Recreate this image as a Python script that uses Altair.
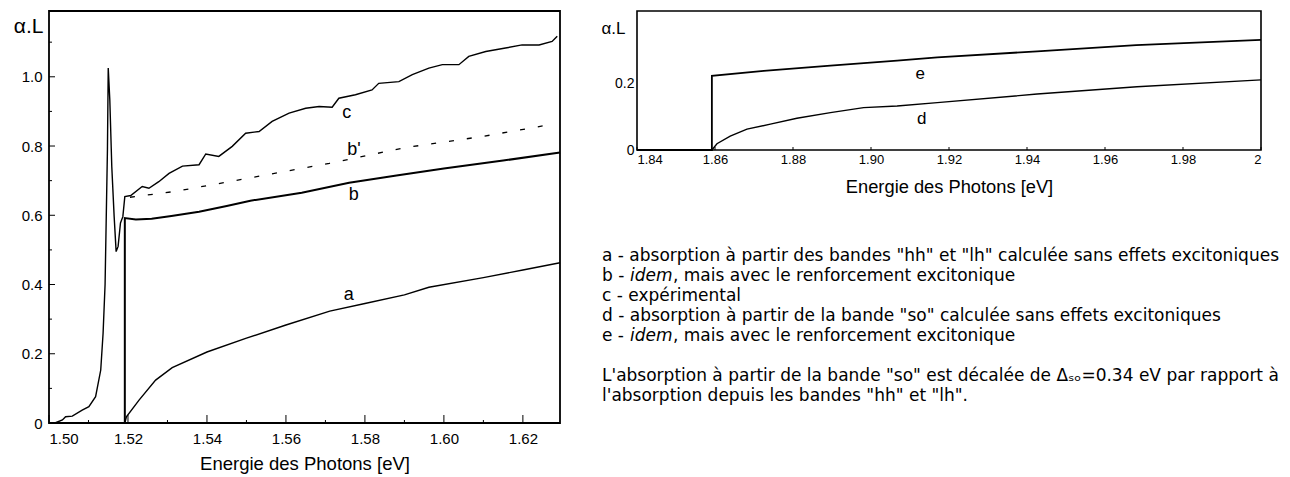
import altair as alt
import pandas as pd

FONT = "Liberation Sans"
CAP_FONT = "DejaVu Sans"

# ---------------- left panel data (hh / lh bands) ----------------
c_E = [1.5015, 1.5034, 1.5042, 1.5059, 1.5084, 1.5101, 1.5118, 1.5131, 1.5137, 1.5142,
       1.5145, 1.5148, 1.5150, 1.5154, 1.5159, 1.5165, 1.5170, 1.5175, 1.5181, 1.5187,
       1.5192, 1.5207, 1.5236, 1.5253, 1.5278, 1.5304, 1.5338, 1.5380, 1.5397, 1.5430,
       1.5464, 1.5498, 1.5532, 1.5565, 1.5608, 1.5650, 1.5684, 1.5717, 1.5734, 1.5776,
       1.5818, 1.5835, 1.5886, 1.5920, 1.5962, 1.5996, 1.6038, 1.6063, 1.6106, 1.6156,
       1.6198, 1.6241, 1.6274, 1.6287]
c_v = [0.000, 0.009, 0.018, 0.020, 0.037, 0.047, 0.076, 0.153, 0.260, 0.400,
       0.596, 0.790, 1.025, 0.933, 0.740, 0.596, 0.495, 0.510, 0.578, 0.596,
       0.654, 0.657, 0.683, 0.678, 0.697, 0.721, 0.742, 0.746, 0.777, 0.770,
       0.799, 0.837, 0.842, 0.871, 0.895, 0.909, 0.914, 0.912, 0.938, 0.948,
       0.962, 0.981, 0.986, 1.006, 1.025, 1.035, 1.035, 1.059, 1.073, 1.083,
       1.092, 1.092, 1.102, 1.117]

b_E = [1.5192, 1.5192, 1.5220, 1.5260, 1.5310, 1.5380, 1.5450, 1.5510, 1.5640, 1.5760,
       1.5880, 1.6000, 1.6150, 1.6294]
b_v = [0.000, 0.592, 0.588, 0.590, 0.598, 0.610, 0.627, 0.642, 0.665, 0.694,
       0.715, 0.735, 0.758, 0.781]

bp_E = [1.5205, 1.5320, 1.5500, 1.5710, 1.5900, 1.6100, 1.6250]
bp_v = [0.652, 0.669, 0.706, 0.750, 0.795, 0.828, 0.858]

a_E = [1.5192, 1.5196, 1.5228, 1.5270, 1.5312, 1.5400, 1.5500, 1.5600, 1.5711, 1.5800,
       1.5900, 1.5962, 1.6100, 1.6200, 1.6294]
a_v = [0.000, 0.018, 0.066, 0.124, 0.160, 0.205, 0.245, 0.283, 0.323, 0.345,
       0.370, 0.392, 0.420, 0.442, 0.463]

left_labels = ["a", "b", "b'", "c"]
left_label_E = [1.5759, 1.5772, 1.5772, 1.5754]
left_label_v = [0.370, 0.659, 0.789, 0.896]

left_x_ticks = [1.50, 1.52, 1.54, 1.56, 1.58, 1.60, 1.62]
left_x_minor = [1.51, 1.53, 1.55, 1.57, 1.59, 1.61]
left_y_ticks = [0, 0.2, 0.4, 0.6, 0.8, 1.0]
left_y_minor = [0.1, 0.3, 0.5, 0.7, 0.9, 1.1]

# ---------------- right panel data (so band) ----------------
d_E = [1.8592, 1.8605, 1.8639, 1.8682, 1.8742, 1.8810, 1.8896, 1.8981, 1.9067, 1.9170,
       1.9426, 1.9682, 2.0000]
d_v = [0.000, 0.019, 0.042, 0.063, 0.078, 0.096, 0.113, 0.128, 0.133, 0.143,
       0.169, 0.191, 0.212]

e_E = [1.8400, 1.8592, 1.8592, 1.8725, 1.8896, 1.9067, 1.9170, 1.9426, 1.9680, 2.0000]
e_v = [0.000, 0.000, 0.224, 0.239, 0.255, 0.270, 0.280, 0.298, 0.317, 0.333]

right_labels = ["e", "d"]
right_label_E = [1.9126, 1.9130]
right_label_v = [0.230, 0.094]

right_x_ticks = [1.84, 1.86, 1.88, 1.90, 1.92, 1.94, 1.96, 1.98, 2.00]
right_y_ticks = [0, 0.2]

# ---------------- caption text ----------------
caption_rows = [0, 1, 1, 1, 2, 3, 4, 4, 4, 6, 7]
caption_part = ["plain", "plain", "italic", "rest", "plain", "plain", "plain", "italic", "rest", "plain", "plain"]
caption_text = [
    'a - absorption à partir des bandes "hh" et "lh" calculée sans effets excitoniques',
    'b - ', 'idem', ', mais avec le renforcement excitonique',
    'c - expérimental',
    'd - absorption à partir de la bande "so" calculée sans effets excitoniques',
    'e - ', 'idem', ', mais avec le renforcement excitonique',
    'L\'absorption à partir de la bande "so" est décalée de Δₛₒ=0.34 eV par rapport à',
    'l\'absorption depuis les bandes "hh" et "lh".',
]


def frame(E, v):
    return pd.DataFrame({"E": E, "v": v, "o": list(range(len(E)))})


# ================= left chart =================
xL = alt.Scale(domain=[1.50, 1.6294], nice=False, zero=False)
yL = alt.Scale(domain=[0, 1.19], nice=False, zero=False)
xL_axis = alt.Axis(values=left_x_ticks, format=".2f", title="Energie des Photons  [eV]",
                   ticks=False, domain=False, grid=False, labelPadding=8, labelFontSize=15,
                   titleFontSize=18.5, titleFontWeight="normal", titlePadding=8,
                   labelColor="black", titleColor="black", labelFont=FONT, titleFont=FONT)
yL_axis = alt.Axis(values=left_y_ticks, labelExpr="datum.value == 0 ? '0' : format(datum.value, '.1f')",
                   title="α.L", titleAngle=0, titleAlign="right", titleBaseline="middle",
                   titleX=-6, titleY=15, titleFontSize=21, titleFontWeight="normal",
                   ticks=False, domain=False, grid=False, labelPadding=7, labelFontSize=15,
                   labelColor="black", titleColor="black", labelFont=FONT, titleFont=FONT)


def encL(chart):
    return chart.encode(x=alt.X("E:Q", scale=xL, axis=xL_axis),
                        y=alt.Y("v:Q", scale=yL, axis=yL_axis))


lc = encL(alt.Chart(frame(c_E, c_v)).mark_line(color="black", strokeWidth=1.4)).encode(order="o:Q")
lb = encL(alt.Chart(frame(b_E, b_v)).mark_line(color="black", strokeWidth=2)).encode(order="o:Q")
lbp = encL(alt.Chart(frame(bp_E, bp_v)).mark_line(color="black", strokeWidth=1.3,
                                                  strokeDash=[5, 13])).encode(order="o:Q")
la = encL(alt.Chart(frame(a_E, a_v)).mark_line(color="black", strokeWidth=1.4)).encode(order="o:Q")
llab = encL(alt.Chart(pd.DataFrame({"E": left_label_E, "v": left_label_v, "t": left_labels}))
            .mark_text(font=FONT, fontSize=18, color="black")).encode(text="t:N")

xt_major = alt.Chart(pd.DataFrame({"E": left_x_ticks})).mark_rule(color="black", strokeWidth=1).encode(
    x=alt.X("E:Q", scale=xL, axis=xL_axis), y=alt.value(412), y2=alt.value(404))
xt_minor = alt.Chart(pd.DataFrame({"E": left_x_minor})).mark_rule(color="black", strokeWidth=1).encode(
    x=alt.X("E:Q", scale=xL, axis=xL_axis), y=alt.value(412), y2=alt.value(409))
yt_major = alt.Chart(pd.DataFrame({"v": left_y_ticks})).mark_rule(color="black", strokeWidth=1).encode(
    y=alt.Y("v:Q", scale=yL, axis=yL_axis), x=alt.value(0), x2=alt.value(6))
yt_minor = alt.Chart(pd.DataFrame({"v": left_y_minor})).mark_rule(color="black", strokeWidth=1).encode(
    y=alt.Y("v:Q", scale=yL, axis=yL_axis), x=alt.value(0), x2=alt.value(3))

left = alt.layer(xt_major, xt_minor, yt_major, yt_minor, la, lbp, lb, lc, llab).properties(
    width=511, height=412, view=alt.ViewBackground(stroke="black", strokeWidth=1.8))

# ================= right chart =================
xR = alt.Scale(domain=[1.84, 2.0], nice=False, zero=False)
yR = alt.Scale(domain=[0, 0.42], nice=False, zero=False)
xR_axis = alt.Axis(values=right_x_ticks, labelExpr="datum.value == 2 ? '2' : format(datum.value, '.2f')",
                   title="Energie des Photons [eV]", ticks=False, domain=False, grid=False,
                   labelPadding=3, labelFontSize=13, titleFontSize=18.3, titleFontWeight="normal",
                   titlePadding=12, labelColor="black", titleColor="black", labelFont=FONT, titleFont=FONT)
yR_axis = alt.Axis(values=right_y_ticks, labelExpr="datum.value == 0 ? '0' : format(datum.value, '.1f')",
                   title="α.L", titleAngle=0, titleAlign="right", titleBaseline="middle",
                   titleX=-12, titleY=17, titleFontSize=17, titleFontWeight="normal",
                   ticks=False, domain=False, grid=False, labelPadding=3, labelFontSize=14,
                   labelColor="black", titleColor="black", labelFont=FONT, titleFont=FONT)


def encR(chart):
    return chart.encode(x=alt.X("E:Q", scale=xR, axis=xR_axis),
                        y=alt.Y("v:Q", scale=yR, axis=yR_axis))


rd = encR(alt.Chart(frame(d_E, d_v)).mark_line(color="black", strokeWidth=1.4)).encode(order="o:Q")
re_ = encR(alt.Chart(frame(e_E, e_v)).mark_line(color="black", strokeWidth=1.8)).encode(order="o:Q")
rlab = encR(alt.Chart(pd.DataFrame({"E": right_label_E, "v": right_label_v, "t": right_labels}))
            .mark_text(font=FONT, fontSize=17, color="black")).encode(text="t:N")
rxt = alt.Chart(pd.DataFrame({"E": right_x_ticks})).mark_rule(color="black", strokeWidth=1).encode(
    x=alt.X("E:Q", scale=xR, axis=xR_axis), y=alt.value(139), y2=alt.value(136))

right = alt.layer(rxt, rd, re_, rlab).properties(
    width=624, height=139, view=alt.ViewBackground(stroke="black", strokeWidth=1.6))

# ================= caption =================
cap = pd.DataFrame({"row": caption_rows, "part": caption_part, "txt": caption_text})
cap_y = alt.Y("row:Q", scale=alt.Scale(domain=[0, 7], reverse=True, nice=False, zero=False), axis=None)
cap_base = alt.Chart(cap)
CAP_X = -35
CAP_SIZE = 17
cap_plain = cap_base.transform_filter("datum.part == 'plain'").mark_text(
    font=CAP_FONT, fontSize=CAP_SIZE, align="left", baseline="middle", color="black").encode(
    x=alt.value(CAP_X), y=cap_y, text="txt:N")
cap_ital = cap_base.transform_filter("datum.part == 'italic'").mark_text(
    font=CAP_FONT, fontSize=CAP_SIZE, fontStyle="italic", align="left", baseline="middle",
    color="black", dx=28).encode(x=alt.value(CAP_X), y=cap_y, text="txt:N")
cap_rest = cap_base.transform_filter("datum.part == 'rest'").mark_text(
    font=CAP_FONT, fontSize=CAP_SIZE, align="left", baseline="middle", color="black", dx=71).encode(
    x=alt.value(CAP_X), y=cap_y, text="txt:N")
caption = alt.layer(cap_plain, cap_ital, cap_rest).properties(
    width=600, height=140, view=alt.ViewBackground(stroke="transparent"))

rcol = alt.vconcat(right, caption, spacing=49)
chart = alt.hconcat(left, rcol, spacing=35).properties(
    padding={"left": 4, "top": 2, "right": 2, "bottom": 0}
).configure(font=FONT).configure_view(stroke="black")

chart.save("out.html", embed_options={"renderer": "svg", "actions": False})
